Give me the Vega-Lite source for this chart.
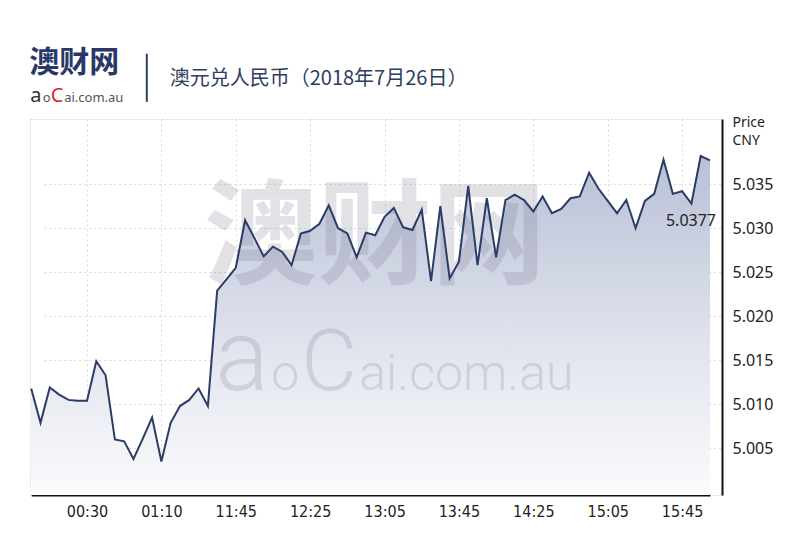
{
  "$schema": "https://vega.github.io/schema/vega-lite/v6.json",
  "width": 692,
  "height": 376,
  "autosize": {"type": "none"},
  "padding": {"left": 30, "top": 119, "right": 78, "bottom": 55},
  "background": "white",
  "config": {
    "view": {"stroke": "#d9d9d9", "strokeDash": [2, 2], "strokeWidth": 1}
  },
  "datasets": {
    "price": [
      {"time": "00:00", "value": 5.0118},
      {"time": "00:05", "value": 5.0079},
      {"time": "00:10", "value": 5.0119},
      {"time": "00:15", "value": 5.0111},
      {"time": "00:20", "value": 5.0105},
      {"time": "00:25", "value": 5.0104},
      {"time": "00:30", "value": 5.0104},
      {"time": "00:35", "value": 5.0149},
      {"time": "00:40", "value": 5.0133},
      {"time": "00:45", "value": 5.0060},
      {"time": "00:50", "value": 5.0058},
      {"time": "00:55", "value": 5.0038},
      {"time": "01:00", "value": 5.0061},
      {"time": "01:05", "value": 5.0085},
      {"time": "01:10", "value": 5.0035},
      {"time": "01:15", "value": 5.0079},
      {"time": "01:20", "value": 5.0098},
      {"time": "01:25", "value": 5.0105},
      {"time": "01:30", "value": 5.0118},
      {"time": "01:35", "value": 5.0098},
      {"time": "11:35", "value": 5.0229},
      {"time": "11:40", "value": 5.0242},
      {"time": "11:45", "value": 5.0255},
      {"time": "11:50", "value": 5.0309},
      {"time": "11:55", "value": 5.0289},
      {"time": "12:00", "value": 5.0268},
      {"time": "12:05", "value": 5.0279},
      {"time": "12:10", "value": 5.0273},
      {"time": "12:15", "value": 5.0258},
      {"time": "12:20", "value": 5.0294},
      {"time": "12:25", "value": 5.0297},
      {"time": "12:30", "value": 5.0305},
      {"time": "12:35", "value": 5.0326},
      {"time": "12:40", "value": 5.0300},
      {"time": "12:45", "value": 5.0294},
      {"time": "12:50", "value": 5.0267},
      {"time": "12:55", "value": 5.0295},
      {"time": "13:00", "value": 5.0292},
      {"time": "13:05", "value": 5.0313},
      {"time": "13:10", "value": 5.0323},
      {"time": "13:15", "value": 5.0301},
      {"time": "13:20", "value": 5.0298},
      {"time": "13:25", "value": 5.0321},
      {"time": "13:30", "value": 5.0240},
      {"time": "13:35", "value": 5.0325},
      {"time": "13:40", "value": 5.0243},
      {"time": "13:45", "value": 5.0262},
      {"time": "13:50", "value": 5.0348},
      {"time": "13:55", "value": 5.0258},
      {"time": "14:00", "value": 5.0334},
      {"time": "14:05", "value": 5.0267},
      {"time": "14:10", "value": 5.0332},
      {"time": "14:15", "value": 5.0338},
      {"time": "14:20", "value": 5.0332},
      {"time": "14:25", "value": 5.0319},
      {"time": "14:30", "value": 5.0336},
      {"time": "14:35", "value": 5.0317},
      {"time": "14:40", "value": 5.0322},
      {"time": "14:45", "value": 5.0334},
      {"time": "14:50", "value": 5.0336},
      {"time": "14:55", "value": 5.0363},
      {"time": "15:00", "value": 5.0345},
      {"time": "15:05", "value": 5.0331},
      {"time": "15:10", "value": 5.0317},
      {"time": "15:15", "value": 5.0332},
      {"time": "15:20", "value": 5.0300},
      {"time": "15:25", "value": 5.0331},
      {"time": "15:30", "value": 5.0339},
      {"time": "15:35", "value": 5.0378},
      {"time": "15:40", "value": 5.0339},
      {"time": "15:45", "value": 5.0342},
      {"time": "15:50", "value": 5.0328},
      {"time": "15:55", "value": 5.0382},
      {"time": "16:00", "value": 5.0377}
    ]
  },
  "layer": [
    {
      "data": {"name": "price"},
      "mark": {
        "type": "area",
        "color": {
          "gradient": "linear",
          "x1": 0, "y1": 0, "x2": 0, "y2": 1,
          "stops": [
            {"offset": 0, "color": "#b9c0d6"},
            {"offset": 0.6, "color": "#e3e6ef"},
            {"offset": 1, "color": "#fbfbfd"}
          ]
        }
      },
      "encoding": {
        "x": {
          "field": "time",
          "type": "ordinal",
          "scale": {"type": "point", "range": [1.2, 680], "padding": 0},
          "axis": {
            "values": ["00:30", "01:10", "11:45", "12:25", "13:05", "13:45", "14:25", "15:05", "15:45"],
            "title": null,
            "labelAngle": 0,
            "labelFont": "DejaVu Sans Condensed, Liberation Sans Narrow, Noto Sans",
            "labelFontSize": 16,
            "labelColor": "#222222",
            "labelPadding": 8,
            "ticks": false,
            "grid": true,
            "gridColor": "#d9d9d9",
            "gridDash": [2, 3],
            "gridWidth": 1,
            "domain": true,
            "domainColor": "#111111",
            "domainWidth": 2
          }
        },
        "y": {
          "field": "value",
          "type": "quantitative",
          "scale": {"domain": [4.9997, 5.0424], "nice": false, "zero": false},
          "axis": {
            "orient": "right",
            "values": [5.005, 5.01, 5.015, 5.02, 5.025, 5.03, 5.035],
            "format": ".3f",
            "labelFont": "Noto Sans",
            "labelFontSize": 16,
            "labelColor": "#222222",
            "labelPadding": 10,
            "ticks": false,
            "grid": true,
            "gridColor": "#d9d9d9",
            "gridDash": [2, 3],
            "gridWidth": 1,
            "domain": true,
            "domainColor": "#111111",
            "domainWidth": 2,
            "title": ["Price", "CNY"],
            "titleAngle": 0,
            "titleAlign": "left",
            "titleBaseline": "top",
            "titleX": 10,
            "titleY": -4,
            "titleFont": "Noto Sans",
            "titleFontSize": 14,
            "titleFontWeight": "normal",
            "titleColor": "#222222",
            "titleLineHeight": 18
          }
        },
        "y2": {"datum": 4.9997}
      }
    },
    {
      "data": {"values": [{}]},
      "mark": {"type": "text", "text": "澳财网", "font": "Noto Sans CJK SC", "fontWeight": "bold", "fontSize": 114, "align": "left", "baseline": "middle", "dx": -4, "fill": "#6e6e88", "opacity": 0.2},
      "encoding": {"x": {"datum": "01:35", "type": "ordinal"}, "y": {"datum": 5.0285, "type": "quantitative"}}
    },
    {
      "data": {"values": [{}]},
      "mark": {"type": "text", "text": "a", "font": "Roboto", "fontWeight": 300, "fontSize": 100, "align": "left", "baseline": "alphabetic", "dx": -2, "fill": "#6e6e88", "opacity": 0.2},
      "encoding": {"x": {"datum": "11:35", "type": "ordinal"}, "y": {"datum": 5.01165, "type": "quantitative"}}
    },
    {
      "data": {"values": [{}]},
      "mark": {"type": "text", "text": "o", "font": "Roboto", "fontWeight": 300, "fontSize": 50, "align": "left", "baseline": "alphabetic", "dx": 54, "fill": "#6e6e88", "opacity": 0.2},
      "encoding": {"x": {"datum": "11:35", "type": "ordinal"}, "y": {"datum": 5.01165, "type": "quantitative"}}
    },
    {
      "data": {"values": [{}]},
      "mark": {"type": "text", "text": "C", "font": "Roboto", "fontWeight": 300, "fontSize": 86, "align": "left", "baseline": "alphabetic", "dx": 84, "fill": "#6e6e88", "opacity": 0.2},
      "encoding": {"x": {"datum": "11:35", "type": "ordinal"}, "y": {"datum": 5.01165, "type": "quantitative"}}
    },
    {
      "data": {"values": [{}]},
      "mark": {"type": "text", "text": "ai.com.au", "font": "Roboto", "fontWeight": 300, "fontSize": 50, "align": "left", "baseline": "alphabetic", "dx": 142, "fill": "#6e6e88", "opacity": 0.2},
      "encoding": {"x": {"datum": "11:35", "type": "ordinal"}, "y": {"datum": 5.01165, "type": "quantitative"}}
    },
    {
      "data": {"name": "price"},
      "mark": {"type": "line", "color": "#2b3c66", "strokeWidth": 2, "strokeJoin": "miter"},
      "encoding": {
        "x": {"field": "time", "type": "ordinal"},
        "y": {"field": "value", "type": "quantitative"}
      }
    },
    {
      "data": {"name": "price"},
      "transform": [{"filter": "datum.time == '16:00'"}],
      "mark": {"type": "text", "align": "right", "baseline": "middle", "dx": 6, "dy": 61, "font": "Noto Sans", "fontSize": 16, "color": "#222222"},
      "encoding": {
        "x": {"field": "time", "type": "ordinal"},
        "y": {"field": "value", "type": "quantitative"},
        "text": {"field": "value", "type": "quantitative", "format": ".4f"}
      }
    },
    {
      "data": {"values": [{}]},
      "mark": {"type": "text", "text": "澳元兑人民币（2018年7月26日）", "font": "Noto Sans CJK SC", "fontSize": 20, "align": "left", "baseline": "middle", "dx": -1, "fill": "#2f3d5f"},
      "encoding": {"x": {"datum": "01:15", "type": "ordinal"}, "y": {"datum": 5.04696, "type": "quantitative"}}
    },
    {
      "data": {"values": [{}]},
      "mark": {"type": "text", "text": "澳财网", "font": "Noto Sans CJK SC", "fontWeight": "bold", "fontSize": 30, "align": "left", "baseline": "middle", "dx": -2, "fill": "#2b3767"},
      "encoding": {"x": {"datum": "00:00", "type": "ordinal"}, "y": {"datum": 5.0488, "type": "quantitative"}}
    },
    {
      "data": {"values": [{}]},
      "mark": {"type": "text", "text": "a", "font": "Noto Sans", "fontSize": 20, "align": "left", "baseline": "alphabetic", "dx": -1, "fill": "#333333"},
      "encoding": {"x": {"datum": "00:00", "type": "ordinal"}, "y": {"datum": 5.04434, "type": "quantitative"}}
    },
    {
      "data": {"values": [{}]},
      "mark": {"type": "text", "text": "o", "font": "Noto Sans", "fontSize": 13, "align": "left", "baseline": "alphabetic", "dx": 11.5, "fill": "#555555"},
      "encoding": {"x": {"datum": "00:00", "type": "ordinal"}, "y": {"datum": 5.04434, "type": "quantitative"}}
    },
    {
      "data": {"values": [{}]},
      "mark": {"type": "text", "text": "C", "font": "Noto Sans", "fontSize": 20, "align": "left", "baseline": "alphabetic", "dx": 19.5, "fill": "#d7282f"},
      "encoding": {"x": {"datum": "00:00", "type": "ordinal"}, "y": {"datum": 5.04434, "type": "quantitative"}}
    },
    {
      "data": {"values": [{}]},
      "mark": {"type": "text", "text": "ai.com.au", "font": "Noto Sans", "fontSize": 13, "align": "left", "baseline": "alphabetic", "dx": 33, "fill": "#555555"},
      "encoding": {"x": {"datum": "00:00", "type": "ordinal"}, "y": {"datum": 5.04434, "type": "quantitative"}}
    },
    {
      "data": {"values": [{}]},
      "mark": {"type": "rule", "color": "#2f3d5f", "strokeWidth": 2, "xOffset": 4},
      "encoding": {"x": {"datum": "01:00", "type": "ordinal"}, "y": {"datum": 5.04981, "type": "quantitative"}, "y2": {"datum": 5.04434}}
    }
  ]
}
